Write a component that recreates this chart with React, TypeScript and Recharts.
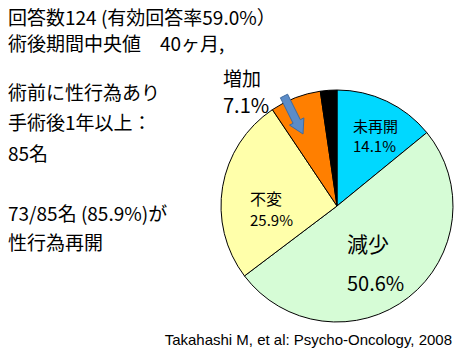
import { PieChart, Pie, Cell } from 'recharts';

const categories = ['未再開', '減少', '不変', '増加', '不明'];
const shares = [14.1, 50.6, 25.9, 7.1, 2.3];
const percentLabels = ['14.1%', '50.6%', '25.9%', '7.1%', ''];
const colors = ['#00D8FF', '#D6FCD6', '#FFFFAA', '#FF7F00', '#000000'];

const data = categories.map((name, i) => ({ name, value: shares[i] }));

const JP = '"Noto Sans CJK JP", "Noto Sans", sans-serif';

// label placement relative to pie centre, per slice
const labelStyle = [
  { dx: 16, dy1: -81, dy2: -61, s1: 15, s2: 15 },
  { dx: 10, dy1: 37, dy2: 76, s1: 21, s2: 20 },
  { dx: -87, dy1: -8, dy2: 13, s1: 16, s2: 15 },
  { dx: -114, dy1: -129, dy2: -102, s1: 19, s2: 20 },
];

const renderLabel = (props: any) => {
  const { cx, cy, index } = props;
  const st = labelStyle[index];
  if (!st) return null;
  return (
    <g>
      <text x={cx + st.dx} y={cy + st.dy1} fill="#000" fontSize={st.s1} fontFamily={JP} dominantBaseline="central">
        {categories[index]}
      </text>
      <text x={cx + st.dx} y={cy + st.dy2} fill="#000" fontSize={st.s2} fontFamily={JP} dominantBaseline="central">
        {percentLabels[index]}
      </text>
    </g>
  );
};

const line = (top: number, text: string) => (
  <div style={{ position: 'absolute', left: 8, top, fontSize: 19, lineHeight: '24px', whiteSpace: 'nowrap' }}>{text}</div>
);

export default function App() {
  return (
    <div style={{ position: 'relative', width: 470, height: 364, margin: -8, background: '#fff', fontFamily: JP, color: '#000', overflow: 'hidden' }}>
      {line(5, '回答数124 (有効回答率59.0%）')}
      {line(31, '術後期間中央値　40ヶ月,')}
      {line(80, '術前に性行為あり')}
      {line(110, '手術後1年以上：')}
      {line(141, '85名')}
      {line(201, '73/85名 (85.9%)が')}
      {line(230, '性行為再開')}
      <PieChart
        width={470}
        height={364}
        margin={{ top: 0, right: 0, bottom: 0, left: 0 }}
        style={{ position: 'absolute', left: 0, top: 0 }}
      >
        <Pie
          data={data}
          dataKey="value"
          nameKey="name"
          cx={337}
          cy={206}
          outerRadius={116}
          startAngle={90}
          endAngle={-270}
          stroke="#000"
          strokeWidth={1}
          label={renderLabel}
          labelLine={false}
          isAnimationActive={false}
        >
          {data.map((d, i) => (
            <Cell key={d.name} fill={colors[i]} />
          ))}
        </Pie>
      </PieChart>
      <svg width={470} height={364} style={{ position: 'absolute', left: 0, top: 0, pointerEvents: 'none' }}>
        <polygon
          points="280.4,97.8 293.1,123.3 289.5,125.1 303,134 303.9,117.9 300.3,119.7 287.6,94.2"
          fill="#5B8CC8"
          stroke="#3F6A9E"
          strokeWidth={1}
        />
      </svg>
      <div style={{ position: 'absolute', right: 18, top: 331, fontSize: 15, fontFamily: '"Liberation Sans", Arial, sans-serif', whiteSpace: 'nowrap' }}>
        Takahashi M, et al: Psycho-Oncology, 2008
      </div>
    </div>
  );
}
